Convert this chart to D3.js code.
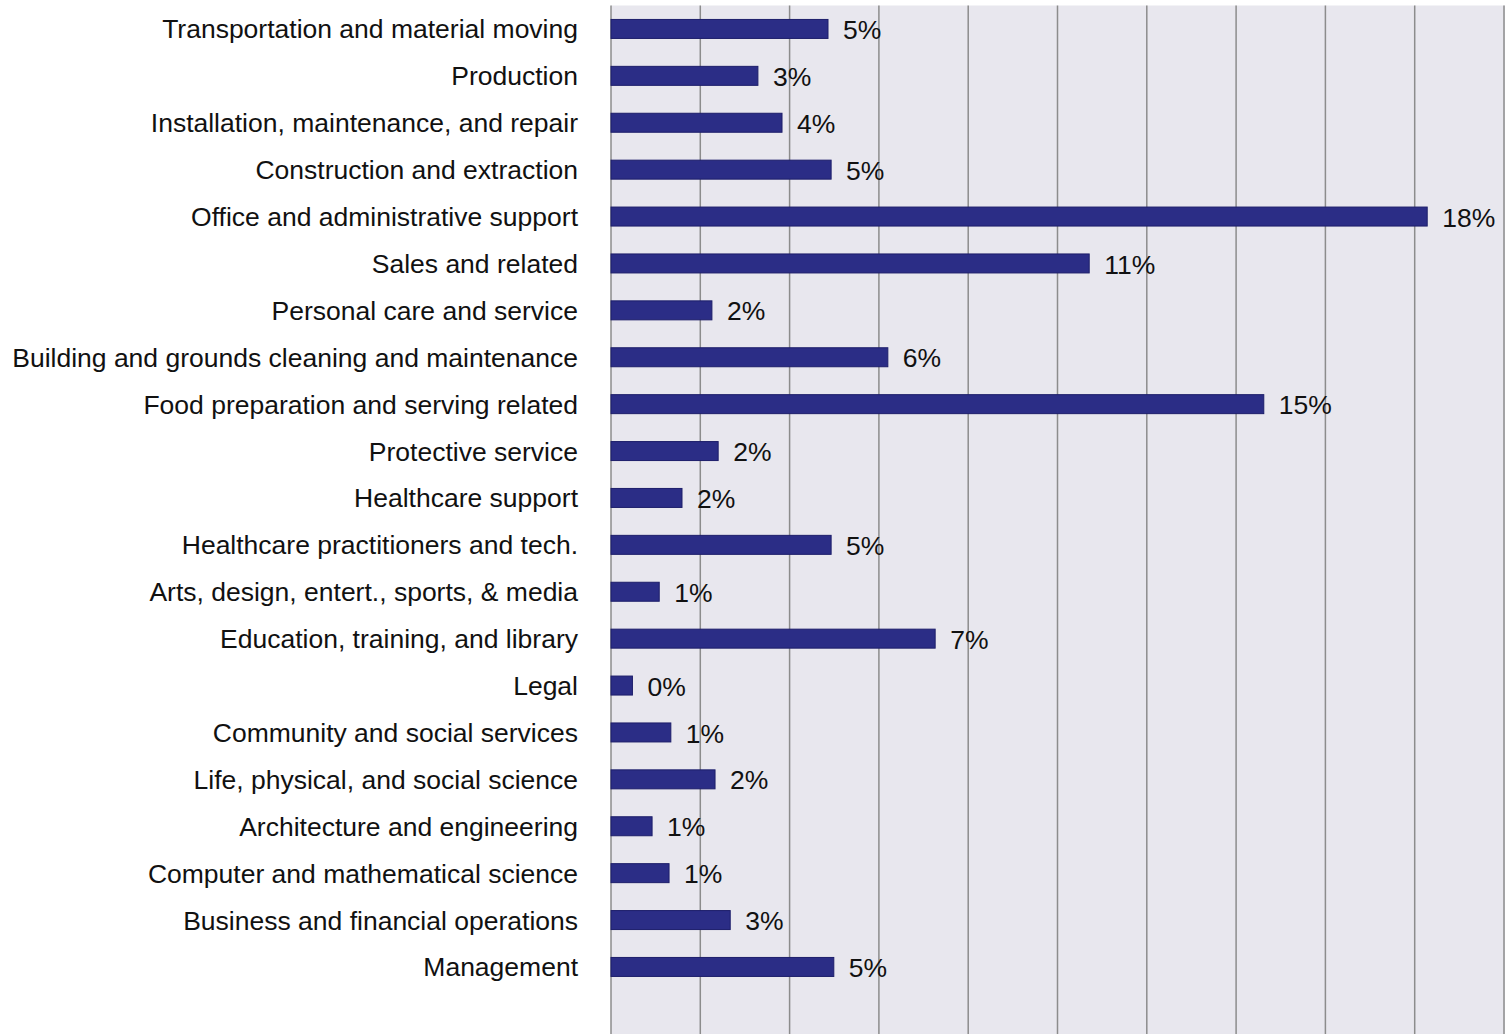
<!DOCTYPE html>
<html><head><meta charset="utf-8">
<script src="https://cdn.jsdelivr.net/npm/d3@7/dist/d3.min.js"></script>
<style>body{margin:0;background:#fff;}svg{display:block;}</style>
</head><body>
<svg id="c" width="1505" height="1034"></svg>
<script>
const categories = [
  "Transportation and material moving","Production","Installation, maintenance, and repair",
  "Construction and extraction","Office and administrative support","Sales and related",
  "Personal care and service","Building and grounds cleaning and maintenance",
  "Food preparation and serving related","Protective service","Healthcare support",
  "Healthcare practitioners and tech.","Arts, design, entert., sports, & media",
  "Education, training, and library","Legal","Community and social services",
  "Life, physical, and social science","Architecture and engineering",
  "Computer and mathematical science","Business and financial operations","Management"
];
const values = [4.86,3.29,3.83,4.93,18.28,10.71,2.26,6.20,14.62,2.40,1.59,4.93,1.08,7.26,0.48,1.34,2.33,0.92,1.30,2.67,4.99];
const labels = ["5%","3%","4%","5%","18%","11%","2%","6%","15%","2%","2%","5%","1%","7%","0%","1%","2%","1%","1%","3%","5%"];
const gridTicks = [0,2,4,6,8,10,12,14,16,18,20];

(function(){
const svg = d3.select("#c");
const mLeft = 611, mRight = 1504, mTop = 5.5, step = 46.9;
const x = d3.scaleLinear().domain([0,20]).range([mLeft,mRight]);
const y = d3.scaleBand().domain(categories).range([mTop, mTop + step*categories.length]).paddingInner(0.595).paddingOuter(0.2975);

svg.append("rect").attr("x",mLeft).attr("y",mTop).attr("width",mRight-mLeft+2).attr("height",1040-mTop).attr("fill","#e8e7ee");
svg.selectAll("line.g").data(gridTicks).join("line").attr("class","g")
  .attr("x1",d=>x(d)).attr("x2",d=>x(d)).attr("y1",mTop).attr("y2",1040)
  .attr("stroke","#8c8c8c").attr("stroke-width",1.5);

svg.selectAll("rect.b").data(categories).join("rect").attr("class","b")
  .attr("x",mLeft).attr("y",d=>y(d)).attr("width",(d,i)=>x(values[i])-mLeft).attr("height",y.bandwidth())
  .attr("fill","#2b2d86").attr("stroke","#1d1e6a").attr("stroke-width",1);

svg.selectAll("text.c").data(categories).join("text").attr("class","c")
  .attr("x",578).attr("y",d=>y(d)+y.bandwidth()/2).attr("dy","0.36em")
  .attr("text-anchor","end").attr("font-family","Liberation Sans, Arial, sans-serif").attr("font-size",26.5)
  .attr("fill","#111").text(d=>d);

svg.selectAll("text.v").data(categories).join("text").attr("class","v")
  .attr("x",(d,i)=>x(values[i])+15).attr("y",d=>y(d)+y.bandwidth()/2).attr("dy","0.38em")
  .attr("font-family","Liberation Sans, Arial, sans-serif").attr("font-size",26.5)
  .attr("fill","#111").text((d,i)=>labels[i]);
})();
</script>
</body></html>
